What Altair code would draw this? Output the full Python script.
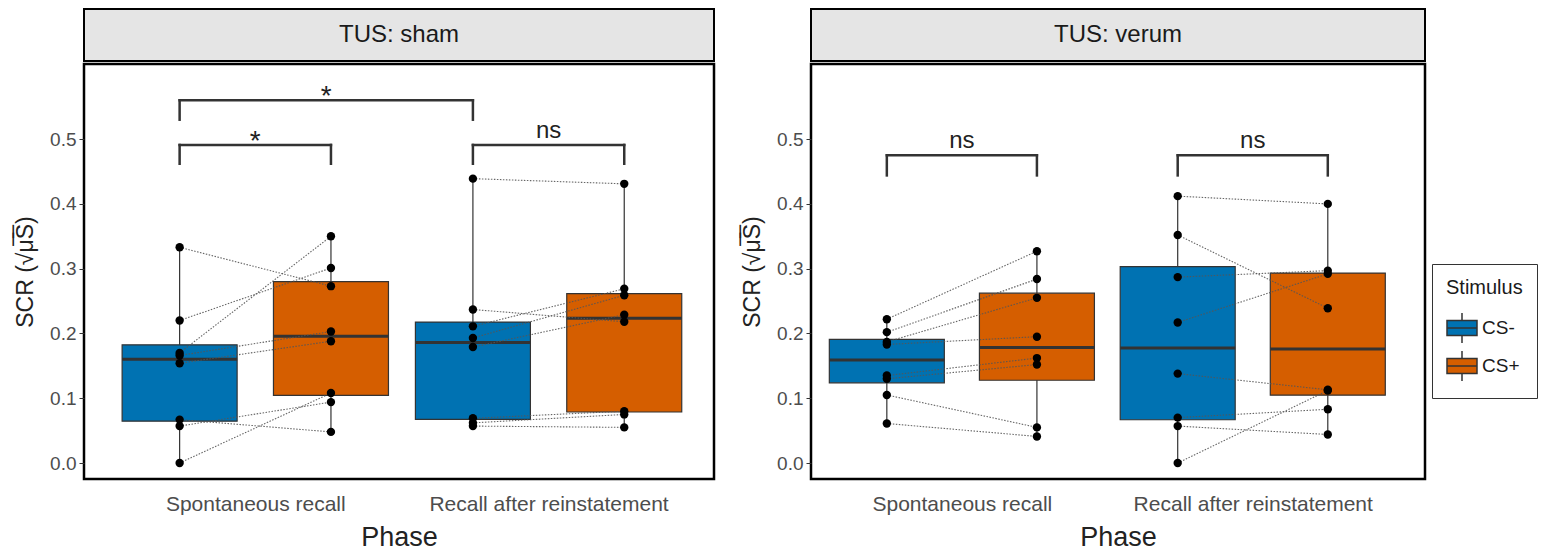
import altair as alt
import pandas as pd

FONT = "Liberation Sans"

phases = ["Spontaneous recall", "Recall after reinstatement"]
stimuli = ["CS-", "CS+"]
panels = ["TUS: sham", "TUS: verum"]
colors = ["#0072B2", "#D55E00"]

# values per subject (index = subject, paired CS- / CS+ within a phase)
sham_spont_csm = [0.333, 0.220, 0.170, 0.166, 0.154, 0.067, 0.057, 0.000]
sham_spont_csp = [0.273, 0.301, 0.350, 0.203, 0.188, 0.048, 0.094, 0.108]
sham_recall_csm = [0.439, 0.237, 0.211, 0.193, 0.179, 0.069, 0.062, 0.057]
sham_recall_csp = [0.431, 0.218, 0.269, 0.259, 0.229, 0.080, 0.075, 0.055]
verum_spont_csm = [0.222, 0.202, 0.187, 0.183, 0.135, 0.130, 0.105, 0.061]
verum_spont_csp = [0.327, 0.284, 0.255, 0.195, 0.162, 0.152, 0.055, 0.041]
verum_recall_csm = [0.412, 0.352, 0.287, 0.217, 0.138, 0.070, 0.057, 0.000]
verum_recall_csp = [0.400, 0.239, 0.297, 0.292, 0.113, 0.083, 0.044, 0.112]

# significance brackets
bracket_panel = [0, 0, 0, 1, 1]
bracket_from_phase = [0, 0, 1, 0, 1]
bracket_from_stim = [0, 0, 0, 0, 0]
bracket_to_phase = [0, 1, 1, 0, 1]
bracket_to_stim = [1, 0, 1, 1, 1]
bracket_top = [0.491, 0.560, 0.491, 0.475, 0.475]
bracket_bottom = [0.462, 0.530, 0.462, 0.444, 0.444]
bracket_label = ["*", "*", "ns", "ns", "ns"]

y_ticks = [0.0, 0.1, 0.2, 0.3, 0.4, 0.5]

groups = {
    (0, 0, 0): sham_spont_csm, (0, 0, 1): sham_spont_csp,
    (0, 1, 0): sham_recall_csm, (0, 1, 1): sham_recall_csp,
    (1, 0, 0): verum_spont_csm, (1, 0, 1): verum_spont_csp,
    (1, 1, 0): verum_recall_csm, (1, 1, 1): verum_recall_csp,
}

OFF = 0.258


def pos(ph, st):
    return ph + 1 + (st - 0.5) * 2 * OFF


rows = []
for (pa, ph, st), vals in groups.items():
    for subj, v in enumerate(vals):
        rows.append({"panel": pa, "phase": phases[ph], "stimulus": stimuli[st],
                     "pos": pos(ph, st), "pair": f"{ph}-{subj}", "value": v})
df = pd.DataFrame(rows)

brows = []
for i in range(len(bracket_panel)):
    x1 = pos(bracket_from_phase[i], bracket_from_stim[i])
    x2 = pos(bracket_to_phase[i], bracket_to_stim[i])
    brows.append({"panel": bracket_panel[i], "x1": x1, "x2": x2, "xm": (x1 + x2) / 2,
                  "top": bracket_top[i], "bottom": bracket_bottom[i], "label": bracket_label[i]})
bdf = pd.DataFrame(brows)

label_expr = f"datum.value == 1 ? '{phases[0]}' : '{phases[1]}'"

PLOT_H = 415
STRIP_H = 52
BOX_W = 115
BOX_GLYPH = "M-1,-0.5H1V0.5H-1Z M-1,0H1 M0,-0.5V-1 M0,0.5V1"


def panel_chart(p, width, xdom):
    d = df[df.panel == p]
    b = bdf[bdf.panel == p]
    xs = alt.Scale(domain=xdom, nice=False, zero=False)
    ys = alt.Scale(domain=[-0.0247, 0.616], nice=False, zero=False)
    xax = alt.Axis(values=[1, 2], labelExpr=label_expr, title="Phase", ticks=False,
                   labelPadding=14, labelFontSize=21, labelColor="#4d4d4d", labelLimit=600,
                   titleFontSize=27, titleColor="#222", titleFontWeight="normal", titlePadding=10)
    yax = alt.Axis(values=y_ticks, format=".1f", title="SCR (\u221a\u03bc\u0305S\u0305)",
                   tickSize=5, tickColor="#333", labelPadding=3, labelFontSize=19,
                   labelColor="#4d4d4d", titleFontSize=23, titleColor="#222",
                   titleFontWeight="normal", titlePadding=12)

    def X(f):
        return alt.X(f"{f}:Q", scale=xs, axis=xax)

    def Y(f):
        return alt.Y(f"{f}:Q", scale=ys, axis=yax)

    base = alt.Chart(d)
    agg = base.transform_aggregate(
        q1="q1(value)", q3="q3(value)", med="median(value)",
        lo="min(value)", hi="max(value)", groupby=["pos", "stimulus"])
    whisk = agg.mark_rule(color="#333", strokeWidth=1.2).encode(x=X("pos"), y=Y("lo"), y2="hi:Q")
    box = agg.mark_bar(size=BOX_W, stroke="#333", strokeWidth=1.2, opacity=1).encode(
        x=X("pos"), y=Y("q1"), y2="q3:Q",
        color=alt.Color("stimulus:N", scale=alt.Scale(domain=stimuli, range=colors),
                        legend=alt.Legend(title="Stimulus", orient="none", legendX=1348, legendY=255,
                                          direction="vertical", symbolType=BOX_GLYPH,
                                          symbolSize=900, symbolStrokeColor="#333",
                                          symbolStrokeWidth=1.5, symbolOpacity=1,
                                          titleFontSize=20, labelFontSize=19,
                                          titleFontWeight="normal", titleColor="#1a1a1a",
                                          labelColor="#1a1a1a", titleFont=FONT, labelFont=FONT,
                                          fillColor="white", strokeColor="#333", padding=14,
                                          rowPadding=2, titlePadding=14, labelOffset=4)))
    med = agg.mark_tick(orient="horizontal", size=BOX_W, thickness=3, color="#333", opacity=1).encode(
        x=X("pos"), y=Y("med"))
    lines = base.mark_line(color="#555", strokeWidth=1.1, strokeDash=[1.5, 1.5], opacity=0.9).encode(
        x=X("pos"), y=Y("value"), detail="pair:N")
    pts = base.mark_circle(size=70, color="black", opacity=1).encode(x=X("pos"), y=Y("value"))

    bc = alt.Chart(b)
    br_h = bc.mark_rule(color="#333", strokeWidth=2.5, strokeCap="square").encode(
        x=X("x1"), x2="x2:Q", y=Y("top"))
    br_l = bc.mark_rule(color="#333", strokeWidth=2.5, strokeCap="square").encode(
        x=X("x1"), y=Y("top"), y2="bottom:Q")
    br_r = bc.mark_rule(color="#333", strokeWidth=2.5, strokeCap="square").encode(
        x=X("x2"), y=Y("top"), y2="bottom:Q")
    star = bc.transform_filter(alt.datum.label == "*").mark_text(
        font=FONT, fontSize=28, dy=5, baseline="alphabetic", color="#222").encode(
        x=X("xm"), y=Y("top"), text="label:N")
    ns = bc.transform_filter(alt.datum.label != "*").mark_text(
        font=FONT, fontSize=24, dy=-7, baseline="alphabetic", color="#222").encode(
        x=X("xm"), y=Y("top"), text="label:N")

    plot = alt.layer(whisk, box, med, lines, pts, br_h, br_l, br_r, star, ns).properties(
        width=width, height=PLOT_H,
        view=alt.ViewBackground(fill="white", stroke="black", strokeWidth=2.5))

    strip = alt.Chart(pd.DataFrame({"label": [panels[p]]})).mark_text(
        font=FONT, fontSize=24, color="#1a1a1a").encode(
        text="label:N", x=alt.value(width / 2), y=alt.value(STRIP_H / 2)).properties(
        width=width, height=STRIP_H,
        view=alt.ViewBackground(fill="#e5e5e5", stroke="black", strokeWidth=2))
    return alt.vconcat(strip, plot, spacing=0)


left = panel_chart(0, 630, [0.433, 2.547])
right = panel_chart(1, 614, [0.4985, 2.575])

chart = alt.hconcat(left, right, spacing=24).properties(
    padding={"left": 5, "top": 0, "right": 0, "bottom": 0}
).configure(font=FONT).configure_axis(grid=False, domain=False, labelFont=FONT, titleFont=FONT)

chart.save("out.html", embed_options={"renderer": "svg", "actions": False})
